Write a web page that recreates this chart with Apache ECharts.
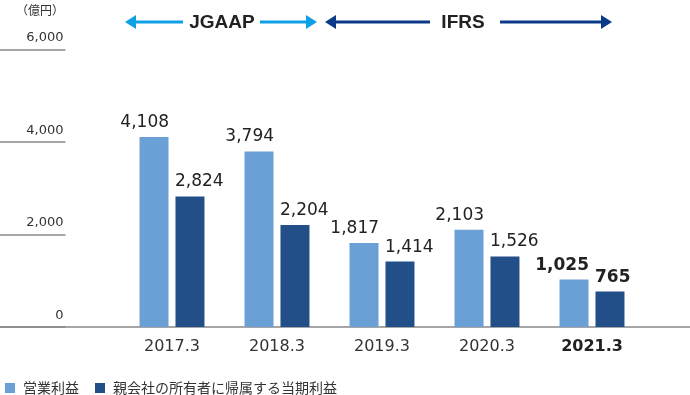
<!DOCTYPE html>
<html>
<head>
<meta charset="utf-8">
<script src="https://cdn.jsdelivr.net/npm/echarts@6/dist/echarts.min.js"></script>
<style>html,body{margin:0;padding:0;background:#fff;}#c{width:690px;height:395px;}</style>
</head>
<body>
<div id="c"></div>
<script>
var categories = ['2017.3', '2018.3', '2019.3', '2020.3', '2021.3'];
var operatingProfit = [4108, 3794, 1817, 2103, 1025];
var netProfit = [2824, 2204, 1414, 1526, 765];
var seriesNames = ['営業利益', '親会社の所有者に帰属する当期利益'];
var yTicks = [0, 2000, 4000, 6000];
var unitLabel = '（億円）';
var standards = ['JGAAP', 'IFRS'];

var NUMF = 'DejaVu Sans';
var JPF = 'Noto Sans CJK JP';
var LIGHT = '#6aa0d6';
var DARK = '#234f89';
var CYAN = '#0ea0e6';
var NAVY = '#0c3a8a';
var boldIdx = categories.length - 1;

function fmt(v) { return String(v).replace(/\B(?=(\d{3})+(?!\d))/g, ','); }

function mkData(arr) {
  return arr.map(function (v, i) {
    return i === boldIdx ? { value: v, label: { fontWeight: 'bold' } } : v;
  });
}

var chart = echarts.init(document.getElementById('c'), null, { renderer: 'canvas' });

function arrow(x1, x2, y, color, leftHead, rightHead) {
  var els = [];
  var hl = 11, hh = 7;
  var a = leftHead ? x1 + hl - 2 : x1;
  var b = rightHead ? x2 - hl + 2 : x2;
  els.push({ type: 'line', shape: { x1: a, y1: y, x2: b, y2: y }, style: { stroke: color, lineWidth: 3 } });
  if (leftHead) els.push({ type: 'polygon', shape: { points: [[x1, y], [x1 + hl, y - hh], [x1 + hl, y + hh]] }, style: { fill: color } });
  if (rightHead) els.push({ type: 'polygon', shape: { points: [[x2, y], [x2 - hl, y - hh], [x2 - hl, y + hh]] }, style: { fill: color } });
  return els;
}

var ay = 22;
var graphics = []
  .concat(arrow(125, 183, ay, CYAN, true, false))
  .concat(arrow(260, 317, ay, CYAN, false, true))
  .concat(arrow(325, 430, ay, NAVY, true, false))
  .concat(arrow(500, 612, ay, NAVY, false, true));
graphics.push({ type: 'text', x: 222, y: ay + 1, style: { text: standards[0], font: 'bold 19px "Liberation Sans"', fill: '#222', textAlign: 'center', textVerticalAlign: 'middle' } });
graphics.push({ type: 'text', x: 463, y: ay + 1, style: { text: standards[1], font: 'bold 19px "Liberation Sans"', fill: '#222', textAlign: 'center', textVerticalAlign: 'middle' } });
graphics.push({ type: 'text', x: 64, y: 10, style: { text: unitLabel, font: '12px "Noto Sans CJK JP"', fill: '#333', textAlign: 'right', textVerticalAlign: 'middle' } });

var option = {
  animation: false,
  backgroundColor: '#fff',
  textStyle: { fontFamily: NUMF },
  graphic: graphics,
  legend: {
    left: 0, top: 376,
    icon: 'rect', itemWidth: 10, itemHeight: 10, itemGap: 16,
    textStyle: { fontFamily: JPF, fontSize: 14, color: '#333', padding: [0, 0, 0, 3] },
    data: seriesNames
  },
  grid: [
    { left: 119.5, width: 525, top: 49.5, bottom: 68 },
    { left: 0, width: 65.5, top: 49.5, bottom: 68 },
    { left: 0, right: 0, top: 49.5, bottom: 68 }
  ],
  xAxis: [
    {
      type: 'category', gridIndex: 0, data: categories,
      axisLine: { show: false }, axisTick: { show: false },
      axisLabel: {
        interval: 0, margin: 12, fontSize: 16, color: '#333', fontFamily: NUMF,
        formatter: function (v, i) { return i === boldIdx ? '{b|' + v + '}' : v; },
        rich: { b: { fontWeight: 'bold', fontSize: 16, color: '#222', fontFamily: NUMF } }
      }
    },
    { type: 'value', gridIndex: 1, show: false, min: 0, max: 1 },
    {
      type: 'value', gridIndex: 2, min: 0, max: 1,
      axisLine: { show: true, lineStyle: { color: '#888', width: 1.5 } },
      axisTick: { show: false }, axisLabel: { show: false }, splitLine: { show: false }
    }
  ],
  yAxis: [
    { type: 'value', gridIndex: 0, min: yTicks[0], max: yTicks[yTicks.length - 1], interval: 2000, show: false, splitLine: { show: false } },
    {
      type: 'value', gridIndex: 1, position: 'right', min: yTicks[0], max: yTicks[yTicks.length - 1], interval: 2000,
      axisLine: { show: false }, axisTick: { show: false },
      splitLine: { show: true, lineStyle: { color: '#888', width: 1.5 } },
      axisLabel: {
        inside: true, margin: 2, verticalAlign: 'bottom', padding: [0, 0, 5, 0],
        fontSize: 13, color: '#333', fontFamily: NUMF,
        formatter: function (v) { return fmt(v); }
      }
    },
    { type: 'value', gridIndex: 2, show: false, min: 0, max: 1 }
  ],
  series: [
    {
      name: seriesNames[0], type: 'bar', xAxisIndex: 0, yAxisIndex: 0,
      data: mkData(operatingProfit), barWidth: 29, barGap: '24%',
      itemStyle: { color: LIGHT },
      label: {
        show: true, position: 'top', distance: 6, align: 'right', offset: [15, 0],
        fontSize: 17, color: '#222', fontFamily: NUMF,
        formatter: function (p) { return fmt(p.value); }
      }
    },
    {
      name: seriesNames[1], type: 'bar', xAxisIndex: 0, yAxisIndex: 0,
      data: mkData(netProfit), barWidth: 29,
      itemStyle: { color: DARK },
      label: {
        show: true, position: 'top', distance: 6, align: 'left', offset: [-15, 0],
        fontSize: 17, color: '#222', fontFamily: NUMF,
        formatter: function (p) { return fmt(p.value); }
      }
    }
  ]
};
chart.setOption(option);
</script>
</body>
</html>
